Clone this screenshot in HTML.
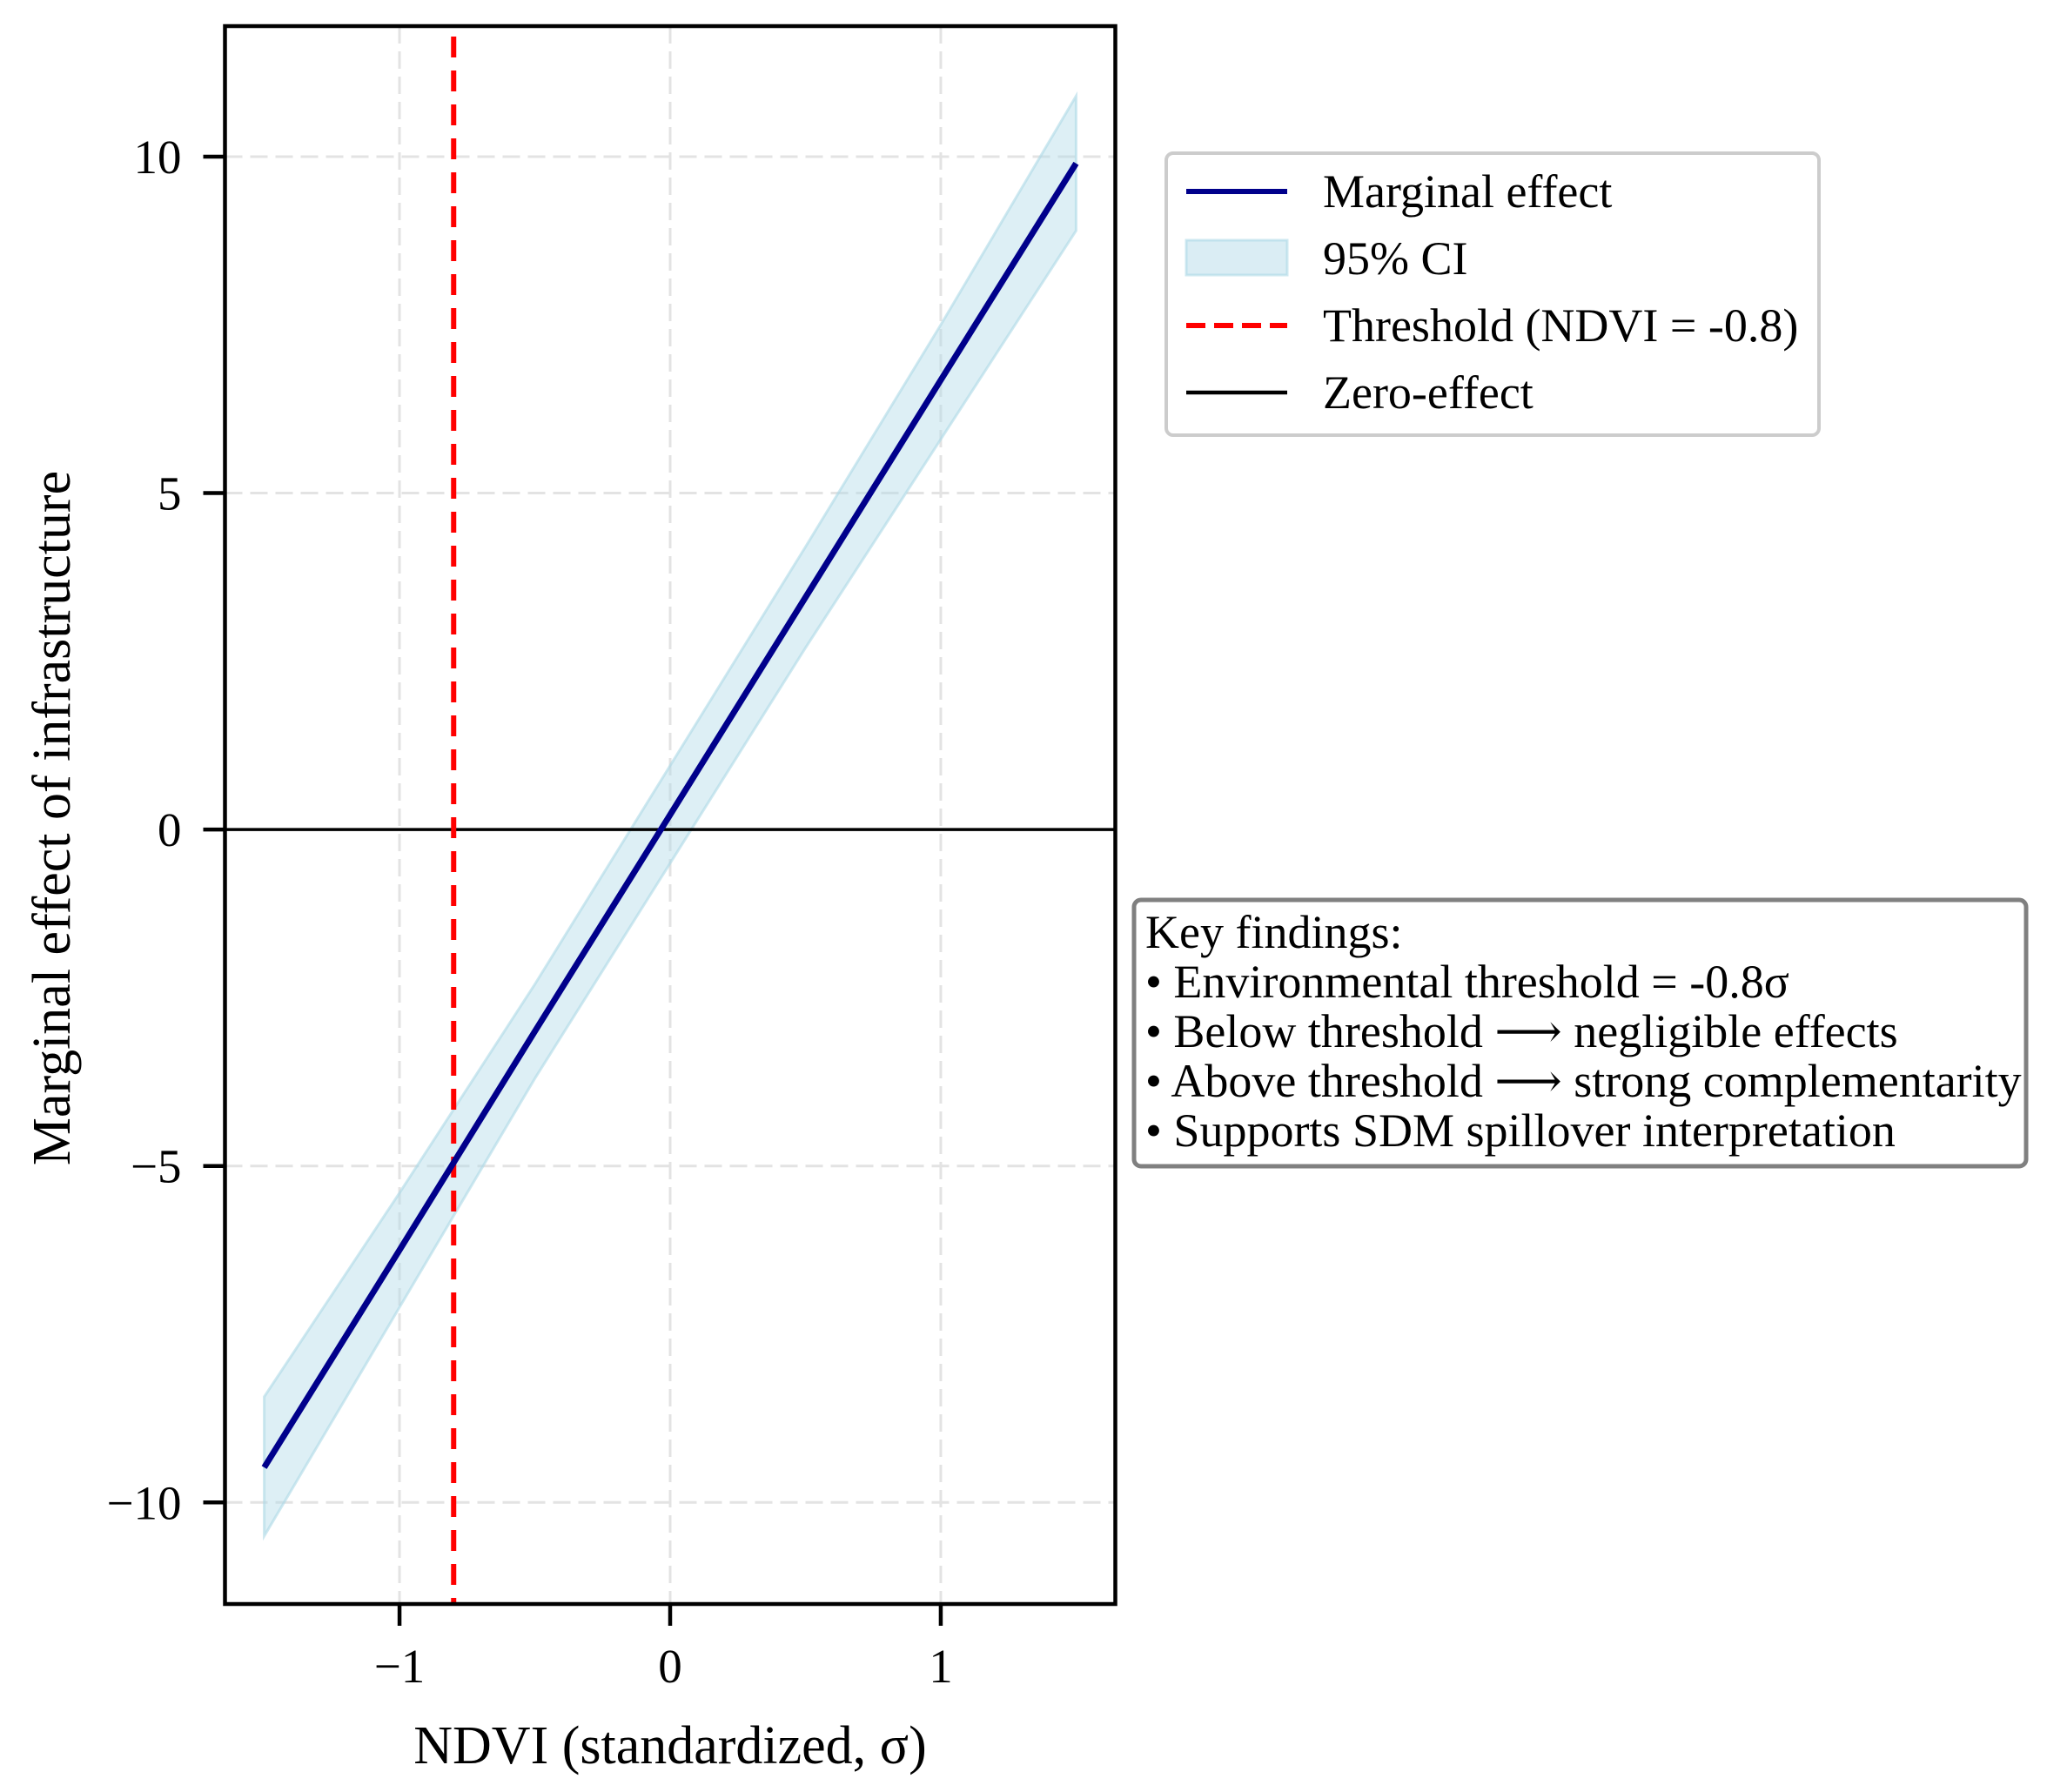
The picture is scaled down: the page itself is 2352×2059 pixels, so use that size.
<!DOCTYPE html>
<html><head><meta charset="utf-8"><style>
html,body{margin:0;padding:0;background:#fff;}
svg{display:block;font-family:"Liberation Serif","DejaVu Serif",serif;}
</style></head><body>
<svg id="chart" width="2352" height="2059" viewBox="0 0 2352 2059" xmlns="http://www.w3.org/2000/svg">
<g id="grid"></g>
<g id="marks"></g>
<rect x="258.5" y="30" width="1023" height="1813" fill="none" stroke="#000" stroke-width="4.5"/>
<g id="ticks"></g>
<text x="770" y="2026" font-size="62" text-anchor="middle">NDVI (standardized, σ)</text>
<text transform="translate(80,940) rotate(-90)" font-size="62" text-anchor="middle">Marginal effect of infrastructure</text>
<g>
<rect x="1340" y="176" width="750" height="324" rx="8" fill="#fff" stroke="#ccc" stroke-width="4"/>
<line x1="1363" y1="220" x2="1479" y2="220" stroke="#00008b" stroke-width="6"/>
<text x="1520" y="238" font-size="54">Marginal effect</text>
<rect x="1363" y="276" width="116" height="40" fill="#add8e6" fill-opacity="0.45" stroke="#add8e6" stroke-opacity="0.6" stroke-width="3"/>
<text x="1520" y="315" font-size="54">95% CI</text>
<line x1="1363" y1="374" x2="1479" y2="374" stroke="#ff0000" stroke-width="6" stroke-dasharray="22,10"/>
<text x="1520" y="392" font-size="54">Threshold (NDVI = -0.8)</text>
<line x1="1363" y1="451" x2="1479" y2="451" stroke="#000" stroke-width="4.5"/>
<text x="1520" y="469" font-size="54">Zero-effect</text>
</g>
<g>
<rect x="1303" y="1034" width="1025" height="306" rx="8" fill="#fff" stroke="#808080" stroke-width="5"/>
<text font-size="54" x="1316">
<tspan x="1316" y="1089">Key findings:</tspan>
<tspan x="1316" y="1146">• Environmental threshold = -0.8σ</tspan>
<tspan x="1316" y="1203">• Below threshold ⟶ negligible effects</tspan>
<tspan x="1316" y="1260">• Above threshold ⟶ strong complementarity</tspan>
<tspan x="1316" y="1317">• Supports SDM spillover interpretation</tspan>
</text>
</g>
</svg>
<script>
const xValues = [-1.5, -1.0, -0.5, 0.0, 0.5, 1.0, 1.5];
const effectValues = [-9.48, -6.25, -3.0, 0.22, 3.45, 6.68, 9.9];
const ciLower = [-10.5, -7.1, -3.7, -0.5, 2.7, 5.8, 8.9];
const ciUpper = [-8.43, -5.4, -2.3, 0.95, 4.2, 7.5, 10.9];
const xTicks = [-1, 0, 1];
const xTickLabels = ["\u22121", "0", "1"];
const yTicks = [-10, -5, 0, 5, 10];
const yTickLabels = ["\u221210", "\u22125", "0", "5", "10"];
const thresholdX = -0.8;
const zeroY = 0;

const L=258.5,R=1281.5,T=30,B=1843;
const xMin=-1.645,xMax=1.645,yMin=-11.51,yMax=11.94;
const sx=v=>L+(v-xMin)/(xMax-xMin)*(R-L);
const sy=v=>B-(v-yMin)/(yMax-yMin)*(B-T);
const NS="http://www.w3.org/2000/svg";
function mk(tag,attrs,parent){const e=document.createElementNS(NS,tag);for(const k in attrs)e.setAttribute(k,attrs[k]);parent.appendChild(e);return e;}
const grid=document.getElementById('grid'),marks=document.getElementById('marks'),ticks=document.getElementById('ticks');
xTicks.forEach((t,i)=>{
  const g=mk('line',{x1:sx(t),x2:sx(t),y1:T,y2:B,stroke:'#e3e3e3','stroke-width':3,'stroke-dasharray':'20,9'},grid);
  
  
  const tk=mk('line',{x1:sx(t),x2:sx(t),y1:B,y2:B+25,stroke:'#000','stroke-width':4.5},ticks);
  
  
  const tx=mk('text',{x:sx(t),y:B+90,'font-size':55,'text-anchor':'middle'},ticks);
  tx.textContent=xTickLabels[i];
  
  
});
yTicks.forEach((t,i)=>{
  const g=mk('line',{x1:L,x2:R,y1:sy(t),y2:sy(t),stroke:'#e3e3e3','stroke-width':3,'stroke-dasharray':'20,9'},grid);
  
  
  const tk=mk('line',{x1:L-25,x2:L,y1:sy(t),y2:sy(t),stroke:'#000','stroke-width':4.5},ticks);
  
  
  const tx=mk('text',{x:L-50,y:sy(t)+19,'font-size':55,'text-anchor':'end'},ticks);
  tx.textContent=yTickLabels[i];
  
  
});
let d='';
xValues.forEach((x,i)=>{d+=(i?'L':'M')+sx(x)+','+sy(ciUpper[i]);});
for(let i=xValues.length-1;i>=0;i--)d+='L'+sx(xValues[i])+','+sy(ciLower[i]);
const band=mk('path',{d:d+'Z',fill:'#add8e6','fill-opacity':0.42,stroke:'#add8e6','stroke-opacity':0.6,'stroke-width':3},marks);


const zl=mk('line',{x1:L,x2:R,y1:sy(zeroY),y2:sy(zeroY),stroke:'#000','stroke-width':3.5},marks);


const th=mk('line',{x1:sx(thresholdX),x2:sx(thresholdX),y1:T+12,y2:B,stroke:'#ff0000','stroke-width':6,'stroke-dasharray':'24,15'},marks);


const ln=mk('polyline',{points:xValues.map((x,i)=>sx(x)+','+sy(effectValues[i])).join(' '),fill:'none',stroke:'#00008b','stroke-width':7},marks);


</script>
</body></html>
